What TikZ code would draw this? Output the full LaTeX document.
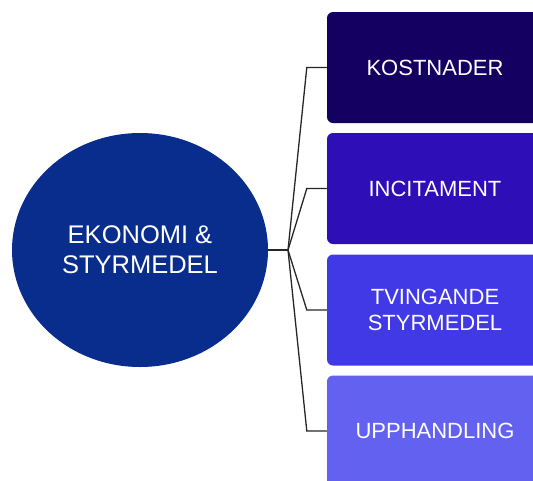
\documentclass[tikz,border=0pt]{standalone}
\usepackage{fontspec}
\setmainfont{Liberation Sans}
\usetikzlibrary{shapes.geometric}
\definecolor{hubblue}{RGB}{8,45,140}
\definecolor{boxA}{RGB}{19,0,96}
\definecolor{boxB}{RGB}{46,14,182}
\definecolor{boxC}{RGB}{65,57,230}
\definecolor{boxD}{RGB}{98,97,240}
\tikzset{
  topic/.style={ellipse, fill=hubblue, text=white, inner sep=0pt,
    minimum width=256pt, minimum height=234pt, align=center,
    font=\fontsize{25.5}{30}\selectfont},
  leaf/.style={rectangle, rounded corners=6pt, text=white, inner sep=0pt,
    minimum width=216pt, minimum height=111pt, align=center,
    font=\fontsize{22}{26.5}\selectfont},
  link/.style={draw=black!85, line width=1.3pt}
}
\begin{document}
\begin{tikzpicture}[x=1pt,y=-1pt]
  \useasboundingbox (0,0) rectangle (533,480);
  \clip (0,0) rectangle (533,480);
  \node[topic] (e) at (140,250) {EKONOMI \&\\STYRMEDEL};
  \node[leaf, fill=boxA] (k) at (435,67.5) {KOSTNADER};
  \node[leaf, fill=boxB] (i) at (435,188.5) {INCITAMENT};
  \node[leaf, fill=boxC] (t) at (435,310) {TVINGANDE\\STYRMEDEL};
  \node[leaf, fill=boxD] (u) at (435,431) {UPPHANDLING};
  \coordinate (hub) at (288,250);
  \draw[link] (e.east) -- (hub);
  \foreach \n in {k,i,t,u}
    \draw[link] (hub) -- ([xshift=-20pt]\n.west) -- (\n.west);
\end{tikzpicture}
\end{document}
